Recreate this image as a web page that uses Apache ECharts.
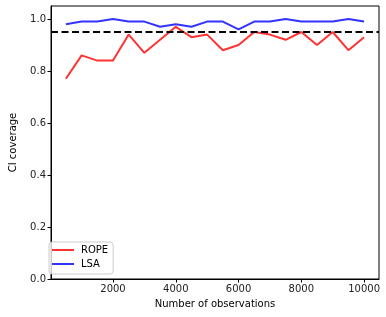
<!DOCTYPE html>
<html><head><meta charset="utf-8">
<script src="https://cdn.jsdelivr.net/npm/echarts@6/dist/echarts.min.js"></script>
<style>html,body{margin:0;padding:0;background:#fff}#c{width:386px;height:317px}</style>
</head><body><div id="c"></div>
<script>
const observations = [500,1000,1500,2000,2500,3000,3500,4000,4500,5000,5500,6000,6500,7000,7500,8000,8500,9000,9500,10000];
const rope = [0.77,0.86,0.84,0.84,0.94,0.87,0.92,0.97,0.93,0.94,0.88,0.90,0.95,0.94,0.92,0.95,0.90,0.95,0.88,0.93];
const lsa  = [0.98,0.99,0.99,1.00,0.99,0.99,0.97,0.98,0.97,0.99,0.99,0.96,0.99,0.99,1.00,0.99,0.99,0.99,1.00,0.99];
const nominal = 0.95;
const xTicks = [2000,4000,6000,8000,10000];
const yTicks = [0,0.2,0.4,0.6,0.8,1.0];

const font = 'DejaVu Sans';
const chart = echarts.init(document.getElementById('c'));
const pair = (ys) => observations.map((x,i)=>[x,ys[i]]);
chart.setOption({
  animation:false,
  grid:{left:44,right:7,top:6,bottom:38,show:true,borderColor:'#000',borderWidth:1},
  xAxis:{type:'value',min:25,max:10475,
    name:'Number of observations',nameLocation:'middle',nameGap:20,
    nameTextStyle:{fontFamily:font,fontSize:10,color:'#000'},
    axisLine:{show:true,lineStyle:{color:'#000',width:1}},
    axisTick:{show:true,length:3.5,lineStyle:{color:'#000'},customValues:xTicks},
    axisLabel:{fontFamily:font,fontSize:10,color:'#222',margin:5,customValues:xTicks,formatter:v=>String(v)},
    splitLine:{show:false}},
  yAxis:{type:'value',min:0,max:1.05,
    name:'CI coverage',nameLocation:'middle',nameGap:33,
    nameTextStyle:{fontFamily:font,fontSize:10,color:'#000'},
    axisLine:{show:true,lineStyle:{color:'#000',width:1}},
    axisTick:{show:true,length:3.5,lineStyle:{color:'#000'},customValues:yTicks},
    axisLabel:{fontFamily:font,fontSize:10,color:'#222',margin:5,customValues:yTicks,formatter:v=>v.toFixed(1)},
    splitLine:{show:false}},
  legend:{orient:'vertical',left:49,top:242,
    backgroundColor:'rgba(255,255,255,0.8)',borderColor:'#ccc',borderWidth:1,borderRadius:3,
    padding:[3,5,5,3],itemGap:4,itemWidth:22,itemHeight:2,
    textStyle:{fontFamily:font,fontSize:10,color:'#000',padding:[0,0,0,2]},
    data:[{name:'ROPE',icon:'rect'},{name:'LSA',icon:'rect'}]},
  series:[
    {name:'ROPE',type:'line',data:pair(rope),showSymbol:false,symbol:'none',
      lineStyle:{color:'#ff3333',width:2},itemStyle:{color:'#ff3333'},
      markLine:{silent:true,symbol:'none',label:{show:false},
        lineStyle:{color:'#000',width:2,type:[7,3.5]},data:[{yAxis:nominal}]}},
    {name:'LSA',type:'line',data:pair(lsa),showSymbol:false,symbol:'none',
      lineStyle:{color:'#3333ff',width:2},itemStyle:{color:'#3333ff'}}
  ]
});
</script></body></html>
